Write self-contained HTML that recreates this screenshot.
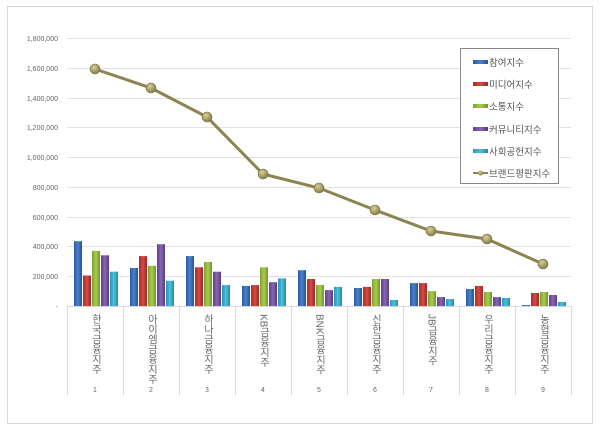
<!DOCTYPE html>
<html><head><meta charset="utf-8"><style>
html,body{margin:0;padding:0;background:#fff;}
svg{display:block;font-family:"Liberation Sans","Noto Sans CJK KR",sans-serif;}
</style></head><body>
<svg width="600" height="432" viewBox="0 0 600 432" xmlns="http://www.w3.org/2000/svg">
<defs>
<linearGradient id="gb" x1="0" x2="1"><stop offset="0" stop-color="#2a5aa0"/><stop offset=".5" stop-color="#4a82d0"/><stop offset="1" stop-color="#24508f"/></linearGradient>
<linearGradient id="gr" x1="0" x2="1"><stop offset="0" stop-color="#a82a28"/><stop offset=".5" stop-color="#d64a46"/><stop offset="1" stop-color="#9a2624"/></linearGradient>
<linearGradient id="gg" x1="0" x2="1"><stop offset="0" stop-color="#7fa030"/><stop offset=".5" stop-color="#a8cc50"/><stop offset="1" stop-color="#74942a"/></linearGradient>
<linearGradient id="gp" x1="0" x2="1"><stop offset="0" stop-color="#603f8a"/><stop offset=".5" stop-color="#8a66b4"/><stop offset="1" stop-color="#583a80"/></linearGradient>
<linearGradient id="gc" x1="0" x2="1"><stop offset="0" stop-color="#2896b4"/><stop offset=".5" stop-color="#4cc0dc"/><stop offset="1" stop-color="#228aa6"/></linearGradient>
<radialGradient id="dot" cx=".4" cy=".35" r=".7"><stop offset="0" stop-color="#d8d09a"/><stop offset="1" stop-color="#7e7640"/></radialGradient>
</defs>
<rect x="7.5" y="6.5" width="585" height="417" fill="#fff" stroke="#d8d8d8"/>
<g stroke="#e2e2e2" stroke-width="1">
<line x1="67" y1="38.5" x2="571" y2="38.5"/><line x1="67" y1="68.5" x2="571" y2="68.5"/>
<line x1="67" y1="98.5" x2="571" y2="98.5"/><line x1="67" y1="127.5" x2="571" y2="127.5"/>
<line x1="67" y1="157.5" x2="571" y2="157.5"/><line x1="67" y1="187.5" x2="571" y2="187.5"/>
<line x1="67" y1="217.5" x2="571" y2="217.5"/><line x1="67" y1="246.5" x2="571" y2="246.5"/>
<line x1="67" y1="276.5" x2="571" y2="276.5"/>
</g>
<g stroke="#d8d8d8"><line x1="67" y1="306.5" x2="571" y2="306.5"/>
<line x1="67.5" y1="306" x2="67.5" y2="395"/><line x1="123.5" y1="306" x2="123.5" y2="395"/><line x1="179.5" y1="306" x2="179.5" y2="395"/><line x1="235.5" y1="306" x2="235.5" y2="395"/><line x1="291.5" y1="306" x2="291.5" y2="395"/><line x1="347.5" y1="306" x2="347.5" y2="395"/><line x1="403.5" y1="306" x2="403.5" y2="395"/><line x1="459.5" y1="306" x2="459.5" y2="395"/><line x1="515.5" y1="306" x2="515.5" y2="395"/><line x1="571.5" y1="306" x2="571.5" y2="395"/></g>
<g font-size="7" fill="#666" text-anchor="end">
<text x="58" y="41">1,800,000</text><text x="58" y="71">1,600,000</text><text x="58" y="101">1,400,000</text><text x="58" y="130">1,200,000</text><text x="58" y="160">1,000,000</text><text x="58" y="190">800,000</text><text x="58" y="220">600,000</text><text x="58" y="249">400,000</text><text x="58" y="279">200,000</text><text x="58" y="309">-</text>
</g>
<g>
<rect x="74" y="241.2" width="8" height="64.8" fill="url(#gb)"/><rect x="83" y="275.5" width="8" height="30.5" fill="url(#gr)"/><rect x="92" y="250.9" width="8" height="55.1" fill="url(#gg)"/><rect x="101" y="255.3" width="8" height="50.7" fill="url(#gp)"/><rect x="110" y="271.7" width="8" height="34.3" fill="url(#gc)"/>
<rect x="130" y="268" width="8" height="38" fill="url(#gb)"/><rect x="139" y="256.1" width="8" height="49.9" fill="url(#gr)"/><rect x="148" y="265.8" width="8" height="40.2" fill="url(#gg)"/><rect x="157" y="244.2" width="8" height="61.8" fill="url(#gp)"/><rect x="166" y="280.7" width="8" height="25.3" fill="url(#gc)"/>
<rect x="186" y="256.1" width="8" height="49.9" fill="url(#gb)"/><rect x="195" y="267.3" width="8" height="38.7" fill="url(#gr)"/><rect x="204" y="262" width="8" height="44" fill="url(#gg)"/><rect x="213" y="271.7" width="8" height="34.3" fill="url(#gp)"/><rect x="222" y="285.1" width="8" height="20.9" fill="url(#gc)"/>
<rect x="242" y="285.9" width="8" height="20.1" fill="url(#gb)"/><rect x="251" y="285.1" width="8" height="20.9" fill="url(#gr)"/><rect x="260" y="267.3" width="8" height="38.7" fill="url(#gg)"/><rect x="269" y="282.2" width="8" height="23.8" fill="url(#gp)"/><rect x="278" y="278.4" width="8" height="27.6" fill="url(#gc)"/>
<rect x="298" y="270.2" width="8" height="35.8" fill="url(#gb)"/><rect x="307" y="279" width="8" height="27" fill="url(#gr)"/><rect x="316" y="285" width="8" height="21" fill="url(#gg)"/><rect x="325" y="290.1" width="8" height="15.9" fill="url(#gp)"/><rect x="334" y="286.9" width="8" height="19.1" fill="url(#gc)"/>
<rect x="354" y="288" width="8" height="18" fill="url(#gb)"/><rect x="363" y="286.9" width="8" height="19.1" fill="url(#gr)"/><rect x="372" y="279" width="8" height="27" fill="url(#gg)"/><rect x="381" y="279" width="8" height="27" fill="url(#gp)"/><rect x="390" y="300" width="8" height="6" fill="url(#gc)"/>
<rect x="410" y="283.1" width="8" height="22.9" fill="url(#gb)"/><rect x="419" y="283.1" width="8" height="22.9" fill="url(#gr)"/><rect x="428" y="291.1" width="8" height="14.9" fill="url(#gg)"/><rect x="437" y="297.1" width="8" height="8.9" fill="url(#gp)"/><rect x="446" y="299" width="8" height="7" fill="url(#gc)"/>
<rect x="466" y="289" width="8" height="17" fill="url(#gb)"/><rect x="475" y="286" width="8" height="20" fill="url(#gr)"/><rect x="484" y="292" width="8" height="14" fill="url(#gg)"/><rect x="493" y="297.1" width="8" height="8.9" fill="url(#gp)"/><rect x="502" y="298" width="8" height="8" fill="url(#gc)"/>
<rect x="522" y="305" width="8" height="1" fill="url(#gb)"/><rect x="531" y="293" width="8" height="13" fill="url(#gr)"/><rect x="540" y="292" width="8" height="14" fill="url(#gg)"/><rect x="549" y="295" width="8" height="11" fill="url(#gp)"/><rect x="558" y="302" width="8" height="4" fill="url(#gc)"/>
</g>
<polyline fill="none" stroke="#8c8450" stroke-width="3" points="95,69 151,88 207,117 263,174 319,188 375,210 431,231 487,239 543,264"/>
<g fill="url(#dot)" stroke="#7a7240" stroke-width=".6">
<circle cx="95" cy="69" r="5"/><circle cx="151" cy="88" r="5"/><circle cx="207" cy="117" r="5"/><circle cx="263" cy="174" r="5"/><circle cx="319" cy="188" r="5"/><circle cx="375" cy="210" r="5"/><circle cx="431" cy="231" r="5"/><circle cx="487" cy="239" r="5"/><circle cx="543" cy="264" r="5"/>
</g>
<g font-size="10" fill="#666" text-anchor="start" style="writing-mode:vertical-rl;">
<text x="95" y="314">한국금융지주</text><text x="151" y="314">아이엠금융지주</text><text x="207" y="314">하나금융지주</text><text x="263" y="314">KB금융지주</text><text x="319" y="314">BNK금융지주</text><text x="375" y="314">신한금융지주</text><text x="431" y="314">JB금융지주</text><text x="487" y="314">우리금융지주</text><text x="543" y="314">농협금융지주</text>
</g>
<g font-size="7" fill="#666" text-anchor="middle">
<text x="95" y="392">1</text><text x="151" y="392">2</text><text x="207" y="392">3</text><text x="263" y="392">4</text><text x="319" y="392">5</text><text x="375" y="392">6</text><text x="431" y="392">7</text><text x="487" y="392">8</text><text x="543" y="392">9</text>
</g>
<rect x="460.5" y="48.5" width="98" height="135" fill="#fff" stroke="#888"/>
<g font-size="9.5" fill="#555">
<rect x="473" y="60" width="15" height="4" fill="url(#gb)"/><text x="489" y="66">참여지수</text>
<rect x="473" y="82" width="15" height="4" fill="url(#gr)"/><text x="489" y="88">미디어지수</text>
<rect x="473" y="104" width="15" height="4" fill="url(#gg)"/><text x="489" y="110">소통지수</text>
<rect x="473" y="127" width="15" height="4" fill="url(#gp)"/><text x="489" y="133">커뮤니티지수</text>
<rect x="473" y="149" width="15" height="4" fill="url(#gc)"/><text x="489" y="155">사회공헌지수</text>
<line x1="473" y1="173" x2="488" y2="173" stroke="#8c8450" stroke-width="2"/><circle cx="480.5" cy="173" r="2.5" fill="url(#dot)"/><text x="489" y="177">브랜드평판지수</text>
</g>
</svg>
</body></html>
